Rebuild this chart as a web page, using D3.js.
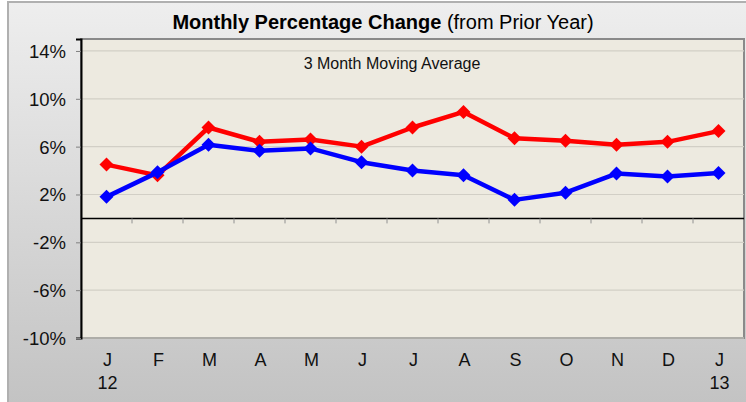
<!DOCTYPE html>
<html><head><meta charset="utf-8">
<script src="https://cdn.jsdelivr.net/npm/d3@7"></script>
<style>body{margin:0;background:#fff;}svg{display:block;font-family:"Liberation Sans",Arial,sans-serif;}</style>
</head><body><svg id="c" width="746" height="402"></svg>
<script>
const months = ["J","F","M","A","M","J","J","A","S","O","N","D","J"];
const years = ["12","","","","","","","","","","","","13"];
const redSeries = [4.5,3.6,7.6,6.4,6.6,6.0,7.6,8.9,6.7,6.5,6.15,6.4,7.3];
const blueSeries = [1.8,3.85,6.15,5.65,5.85,4.7,4.0,3.6,1.55,2.15,3.75,3.5,3.8];
const yTicks = [-10,-6,-2,2,6,10,14];

const svg = d3.select("#c");
const defs = svg.append("defs");
const g1 = defs.append("linearGradient").attr("id","bg").attr("x1",0).attr("y1",0).attr("x2",0).attr("y2",1);
g1.append("stop").attr("offset","0%").attr("stop-color","#eeeeee");
g1.append("stop").attr("offset","100%").attr("stop-color","#c2c2c2");

// outer chart area
svg.append("rect").attr("x",8).attr("y",2).attr("width",746).attr("height",410)
  .attr("fill","url(#bg)").attr("stroke","#b0b0b0").attr("stroke-width",2);

const L=81, R=744, T=39, B=338;
const x = d3.scaleBand().domain(d3.range(months.length)).range([L,R]);
const y = d3.scaleLinear().domain([-10,15]).range([B,T]);

// plot area
svg.append("rect").attr("x",L).attr("y",T).attr("width",R-L).attr("height",B-T)
  .attr("fill","#edeae0").attr("stroke","#8a8a8a").attr("stroke-width",2);

// gridlines
svg.append("g").selectAll("line").data(yTicks).join("line")
  .attr("x1",L).attr("x2",R).attr("y1",d=>y(d)).attr("y2",d=>y(d))
  .attr("stroke","#d2cfc6").attr("stroke-width",1.2);

// y axis
const yAxis = svg.append("g").attr("transform",`translate(${L},0)`)
  .call(d3.axisLeft(y).tickValues(yTicks).tickSize(5).tickFormat(d=>d+"%").tickPadding(10));
yAxis.select(".domain").attr("stroke","#000").attr("stroke-width",2);
yAxis.selectAll(".tick line").attr("stroke","#808080");
yAxis.selectAll("text").attr("font-size",18.5).attr("fill","#111").attr("font-family","Liberation Sans, Arial, sans-serif").attr("dy","0.35em");

// zero line with category-boundary ticks
svg.append("line").attr("x1",L).attr("x2",R).attr("y1",y(0)).attr("y2",y(0)).attr("stroke","#000").attr("stroke-width",1.5);
svg.append("g").selectAll("line").data(d3.range(1,months.length)).join("line")
  .attr("x1",d=>x(d)).attr("x2",d=>x(d)).attr("y1",y(0)).attr("y2",y(0)+5)
  .attr("stroke","#909090").attr("stroke-width",1);

// x labels
const cx = i => x(i)+x.bandwidth()/2;
svg.append("g").selectAll("text").data(months).join("text")
  .attr("x",(d,i)=>cx(i)+1).attr("y",366).attr("text-anchor","middle")
  .attr("font-size",18).attr("fill","#111").text(d=>d);
svg.append("g").selectAll("text").data(years).join("text")
  .attr("x",(d,i)=>cx(i)+1).attr("y",389).attr("text-anchor","middle")
  .attr("font-size",18).attr("fill","#111").text(d=>d);

// lines
const line = d3.line().x((d,i)=>cx(i)).y(d=>y(d));
function drawSeries(data,color){
  svg.append("path").datum(data).attr("d",line).attr("fill","none")
    .attr("stroke",color).attr("stroke-width",4.5).attr("stroke-linejoin","round");
  svg.append("g").selectAll("path").data(data).join("path")
    .attr("d",d3.symbol(d3.symbolDiamond2,125))
    .attr("transform",(d,i)=>`translate(${cx(i)},${y(d)})`)
    .attr("fill",color);
}
drawSeries(redSeries,"#ff0000");
drawSeries(blueSeries,"#0000ff");

// title
const t = svg.append("text").attr("x",383).attr("y",29).attr("text-anchor","middle").attr("font-size",20).attr("fill","#000");
t.append("tspan").attr("font-weight","bold").text("Monthly Percentage Change");
t.append("tspan").text(" (from Prior Year)");

svg.append("text").attr("x",392).attr("y",69).attr("text-anchor","middle").attr("font-size",16).attr("fill","#111").text("3 Month Moving Average");
</script></body></html>
